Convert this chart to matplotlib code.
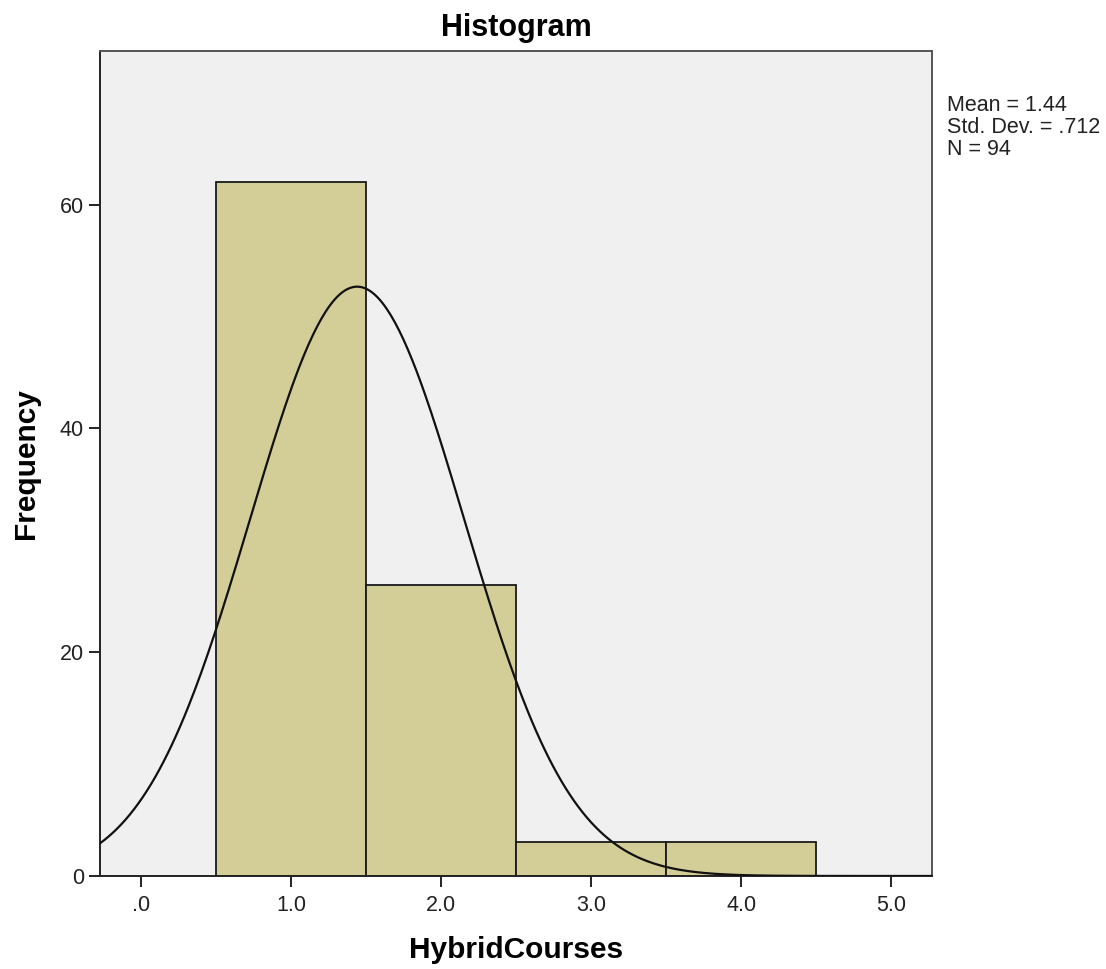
import numpy as np
import matplotlib.pyplot as plt

plt.rcParams['font.family'] = ['Liberation Sans', 'DejaVu Sans']

# histogram data (bin centres, bin width 1)
bin_centers = [1.0, 2.0, 3.0, 4.0]
counts = [62, 26, 3, 3]
mean = 1.44
std_dev = 0.712
n = 94
xticks = [0, 1, 2, 3, 4, 5]
xtick_labels = ['.0', '1.0', '2.0', '3.0', '4.0', '5.0']
yticks = [0, 20, 40, 60]

fig = plt.figure(figsize=(11.06, 9.69), dpi=100)
ax = fig.add_axes([0.0904, 0.096, 0.7523, 0.851])
ax.set_facecolor('#f0f0f0')

ax.bar(bin_centers, counts, width=1.0, color='#d3ce97',
       edgecolor='#1a1a1a', linewidth=1.3, zorder=2)

# normal curve scaled to the counts
xs = np.linspace(-0.3, 5.3, 400)
pdf = np.exp(-0.5 * ((xs - mean) / std_dev) ** 2) / (std_dev * np.sqrt(2 * np.pi))
ax.plot(xs, n * 1.0 * pdf, color='#111111', lw=1.6, zorder=3)

ax.set_xlim(-0.273, 5.27)
ax.set_ylim(0, 73.7)
ax.set_xticks(xticks)
ax.set_xticklabels(xtick_labels)
ax.set_yticks(yticks)
ax.tick_params(axis='both', labelsize=15.5, length=8, width=1.4,
               color='#222222', labelcolor='#222222')
ax.tick_params(axis='x', pad=6)
for s in ax.spines.values():
    s.set_linewidth(1.4)
    s.set_color('#222222')
ax.spines['top'].set_color('#555555')
ax.spines['right'].set_color('#555555')

ax.set_title('Histogram', fontsize=22, fontweight='bold', pad=11)
ax.set_xlabel('HybridCourses', fontsize=21.5, fontweight='bold', labelpad=14)
ax.set_ylabel('Frequency', fontsize=21.5, fontweight='bold', labelpad=14)

fig.text(0.856, 0.902, 'Mean = 1.44\nStd. Dev. = .712\nN = 94',
         fontsize=15.5, va='top', ha='left', linespacing=1.05, color='#222222')

fig.savefig('out.png', dpi=100)
